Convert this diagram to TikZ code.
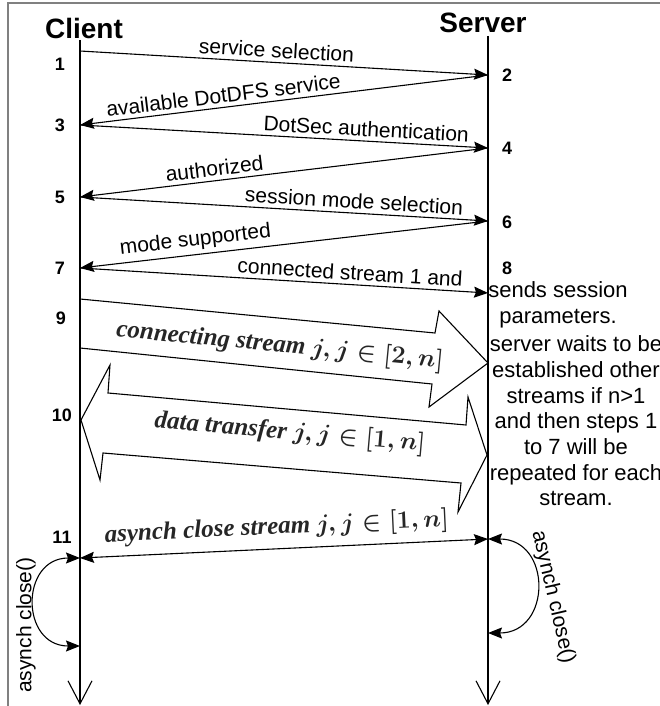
\documentclass[tikz,border=0pt]{standalone}
\usepackage[no-math]{fontspec}
\setmainfont{Liberation Sans}
\newfontfamily\timesfont{Liberation Serif}
\usepackage{amsmath}
\usepackage{amssymb}
\usepackage{xcolor}
\usepackage{tikz}
\usetikzlibrary{arrows.meta}
\usetikzlibrary{calc}

\begin{document}
\begin{tikzpicture}[x=1pt,y=-1pt,line width=1.1pt]
  \tikzstyle{msg}=[-{Stealth[length=14pt,width=11pt,inset=2pt]}]
  \tikzstyle{both}=[{Stealth[length=14pt,width=11pt,inset=2pt]}-{Stealth[length=14pt,width=11pt,inset=2pt]}]
  \tikzstyle{life}=[-{Straight Barb[length=23pt,width=24pt]}]
  \tikzstyle{lbl}=[sloped,above=3pt,inner sep=1pt,font=\fontsize{21}{25}\selectfont]
  \tikzstyle{num}=[inner sep=0pt,font=\fontsize{18}{20}\selectfont\bfseries]
  \tikzstyle{head}=[inner sep=0pt,font=\fontsize{28}{30}\selectfont\bfseries]
  \tikzstyle{txt}=[inner sep=0pt,align=center,font=\fontsize{22}{25.7}\selectfont]
  \tikzstyle{blur}=[inner sep=1pt,text=black!85,font=\fontsize{25}{27}\selectfont\timesfont\bfseries\itshape\boldmath]

  \useasboundingbox (0,0) rectangle (660,706);
  \draw[gray,line width=1.5pt] (8,3) rectangle (700,740);

  \node[head] (Client) at (84,28) {Client};
  \node[head] (Server) at (483,23) {Server};

  % lifelines
  \coordinate (CT) at (80,40);
  \coordinate (CB) at (80,705);
  \coordinate (ST) at (488,36);
  \coordinate (SB) at (488,705);
  \draw[life] (CT) -- (CB);
  \draw[life] (ST) -- (SB);

  \coordinate (C1) at (80,51);
  \coordinate (S2) at (488,75);
  \coordinate (C3) at (80,125);
  \coordinate (S4) at (488,148);
  \coordinate (C5) at (80,197);
  \coordinate (S6) at (488,221);
  \coordinate (C7) at (80,268);
  \coordinate (S8) at (488,293);
  \coordinate (C11) at (80,558);
  \coordinate (S11) at (488,539);
  \coordinate (CL) at (80,646);
  \coordinate (SL) at (488,633);

  \node[num] (N1) at (60,64) {1};
  \node[num] (N2) at (507,75) {2};
  \node[num] (N3) at (60,125) {3};
  \node[num] (N4) at (507,148) {4};
  \node[num] (N5) at (60,197) {5};
  \node[num] (N6) at (507,222) {6};
  \node[num] (N7) at (60,268) {7};
  \node[num] (N8) at (507,268) {8};
  \node[num] (N9) at (61,318) {9};
  \node[num] (N10) at (62,415) {10};
  \node[num] (N11) at (62,537) {11};

  \path
    (C1) edge[msg] node[lbl,pos=0.48] (L1) {service selection} (S2)
    (S2) edge[msg] node[lbl,pos=0.645] (L2) {available DotDFS service} (C3)
    (C3) edge[msg] node[lbl,pos=0.70] (L3) {DotSec authentication} (S4)
    (S4) edge[msg] node[lbl,pos=0.667] (L4) {authorized} (C5)
    (C5) edge[msg] node[lbl,pos=0.67] (L5) {session mode selection} (S6)
    (S6) edge[msg] node[lbl,pos=0.713] (L6) {mode supported} (C7)
    (C7) edge[msg] node[lbl,pos=0.66] (L7) {connected stream 1 and} (S8)
    (C11) edge[both] node[lbl,above=4pt,pos=0.485,blur] (L11) {asynch close stream $j, j \in [1, n]$} (S11);

  % big arrows
  \draw (80,299) -- (435,333) -- (439,311) -- (488,363) -- (429,407) -- (432,384) -- (80,348);
  \draw (81,420) -- (110,365) -- (108,393) -- (466,425) -- (468,397) -- (487,455)
    -- (458,512) -- (461,483) -- (103,453) -- (100,480) -- cycle;
  \node[blur,rotate=-5.5] (B9) at (280,346) {connecting stream $j, j \in [2, n]$};
  \node[blur,rotate=-5] (B10) at (290,433) {data transfer $j, j \in [1, n]$};

  \node[txt] (P8) at (558,305) {sends session\\parameters.};
  \node[txt] (W8) at (576,421) {server waits to be\\established other\\streams if n>1\\and then steps 1\\to 7 will be\\repeated for each\\stream.};

  % close loops
  \draw[both] (C11) .. controls (20,558) and (20,646) .. (CL);
  \draw[both] (S11) .. controls (552,539) and (552,633) .. (SL);
  \node[txt,font=\fontsize{21}{25}\selectfont,rotate=90] (AL) at (26,625) {asynch close()};
  \node[txt,font=\fontsize{21}{25}\selectfont,rotate=-77] (AR) at (553,597) {asynch close()};
\end{tikzpicture}
\end{document}
